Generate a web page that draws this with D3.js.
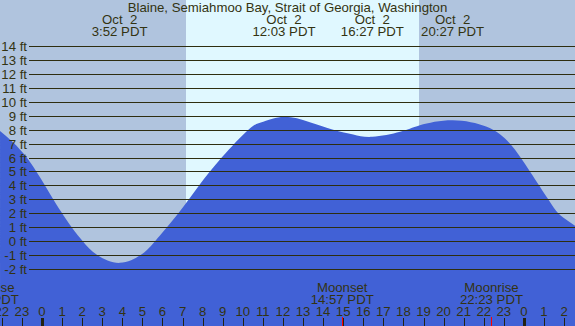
<!DOCTYPE html>
<html>
<head>
<meta charset="utf-8">
<script src="https://cdn.jsdelivr.net/npm/d3@7/dist/d3.min.js"></script>
<style>
  html, body { margin: 0; padding: 0; background: #b0c4de; }
  svg { display: block; }
  text { font-family: "Liberation Sans", Arial, sans-serif; font-size: 13.2px; fill: #333311; white-space: pre; }
</style>
</head>
<body>
<div id="chart"></div>
<script>
// tide heights (hours from midnight Oct 2, feet)
const tideHours = [-2.09, -0.76, 0.56, 1.48, 2.03, 2.75, 3.87, 4.91, 5.63, 6.79, 7.82, 8.95, 10.28, 11.02, 12.05, 13.3, 14.5, 15.5, 16.45, 17.83, 18.82, 20.45, 22.15, 23.3, 24.3, 25.21, 25.71, 26.2, 26.6];
const tideFeet  = [7.91, 6, 3, 1, 0, -1, -1.56, -1, 0, 2, 4, 6, 8, 8.56, 8.92, 8.55, 8.0, 7.65, 7.48, 7.84, 8.32, 8.68, 8.2, 7, 5, 3, 2, 1.45, 1.05];

const title = 'Blaine, Semiahmoo Bay, Strait of Georgia, Washington';
const extremaHours = [3.867, 12.05, 16.45, 20.45];
const extremaTimes = ['3:52 PDT', '12:03 PDT', '16:27 PDT', '20:27 PDT'];
const extremaDate = 'Oct  2';

const sunrise = 7.17, sunset = 18.77;

const moonHours = [-2.72, 14.95, 22.383];
const moonNames = ['Moonrise', 'Moonset', 'Moonrise'];
const moonTimes = ['21:17 PDT', '14:57 PDT', '22:23 PDT'];

const feetTicks = d3.range(-2, 15);
const hourTicks = d3.range(-2, 27);

const width = 575, height = 326;

const x = d3.scaleLinear().domain([-2.0916, 26.544]).range([0, width]);
const y = d3.scaleLinear().domain([-2, 14]).range([269, 46]);

const svg = d3.select('#chart').append('svg')
    .attr('width', width)
    .attr('height', height);

// night / day background
svg.append('rect')
    .attr('width', width).attr('height', height)
    .attr('fill', '#b0c4de');
svg.append('rect')
    .attr('x', Math.round(x(sunrise)))
    .attr('width', Math.round(x(sunset)) - Math.round(x(sunrise)))
    .attr('height', height)
    .attr('fill', '#e0f8ff');

// water
const area = d3.area()
    .x((d, i) => x(tideHours[i]))
    .y0(height)
    .y1(d => y(d))
    .curve(d3.curveNatural);

svg.append('path')
    .datum(tideFeet)
    .attr('d', area)
    .attr('fill', '#4161d6');

// grid lines + feet labels
svg.append('g')
    .selectAll('line')
    .data(feetTicks)
    .join('line')
    .attr('x1', 29).attr('x2', width)
    .attr('y1', d => Math.round(y(d)) + 0.5)
    .attr('y2', d => Math.round(y(d)) + 0.5)
    .attr('stroke', '#2e2e10')
    .attr('stroke-width', 1);

svg.append('g')
    .selectAll('text')
    .data(feetTicks)
    .join('text')
    .attr('x', 27)
    .attr('y', d => Math.round(y(d)) + 4.5)
    .attr('text-anchor', 'end')
    .text(d => d + ' ft');

// title and tide extrema labels
svg.append('text')
    .attr('x', width / 2).attr('y', 12)
    .attr('text-anchor', 'middle')
    .text(title);

const ext = svg.append('g')
    .selectAll('g')
    .data(extremaHours)
    .join('g')
    .attr('transform', d => `translate(${x(d)},0)`);
ext.append('text').attr('y', 24).attr('text-anchor', 'middle').text(extremaDate);
ext.append('text').attr('y', 36).attr('text-anchor', 'middle').text((d, i) => extremaTimes[i]);

// hour axis
svg.append('g')
    .selectAll('line')
    .data(hourTicks)
    .join('line')
    .attr('x1', d => Math.round(x(d)) + 0.5)
    .attr('x2', d => Math.round(x(d)) + 0.5)
    .attr('y1', 318).attr('y2', height)
    .attr('stroke', '#222211')
    .attr('stroke-width', d => (d % 24 === 0 ? 3 : 1));

svg.append('g')
    .selectAll('text')
    .data(hourTicks)
    .join('text')
    .attr('x', d => x(d))
    .attr('y', 316)
    .attr('text-anchor', 'middle')
    .text(d => (d + 24) % 24);

// moon events
svg.append('g')
    .selectAll('line')
    .data(moonHours)
    .join('line')
    .attr('x1', d => Math.round(x(d)) + 0.5)
    .attr('x2', d => Math.round(x(d)) + 0.5)
    .attr('y1', 317).attr('y2', height)
    .attr('stroke', '#ff0000');

const moon = svg.append('g')
    .selectAll('g')
    .data(moonHours)
    .join('g')
    .attr('transform', d => `translate(${x(d)},0)`);
moon.append('text').attr('y', 292).attr('text-anchor', 'middle').text((d, i) => moonNames[i]);
moon.append('text').attr('y', 304).attr('text-anchor', 'middle').text((d, i) => moonTimes[i]);
</script>
</body>
</html>
